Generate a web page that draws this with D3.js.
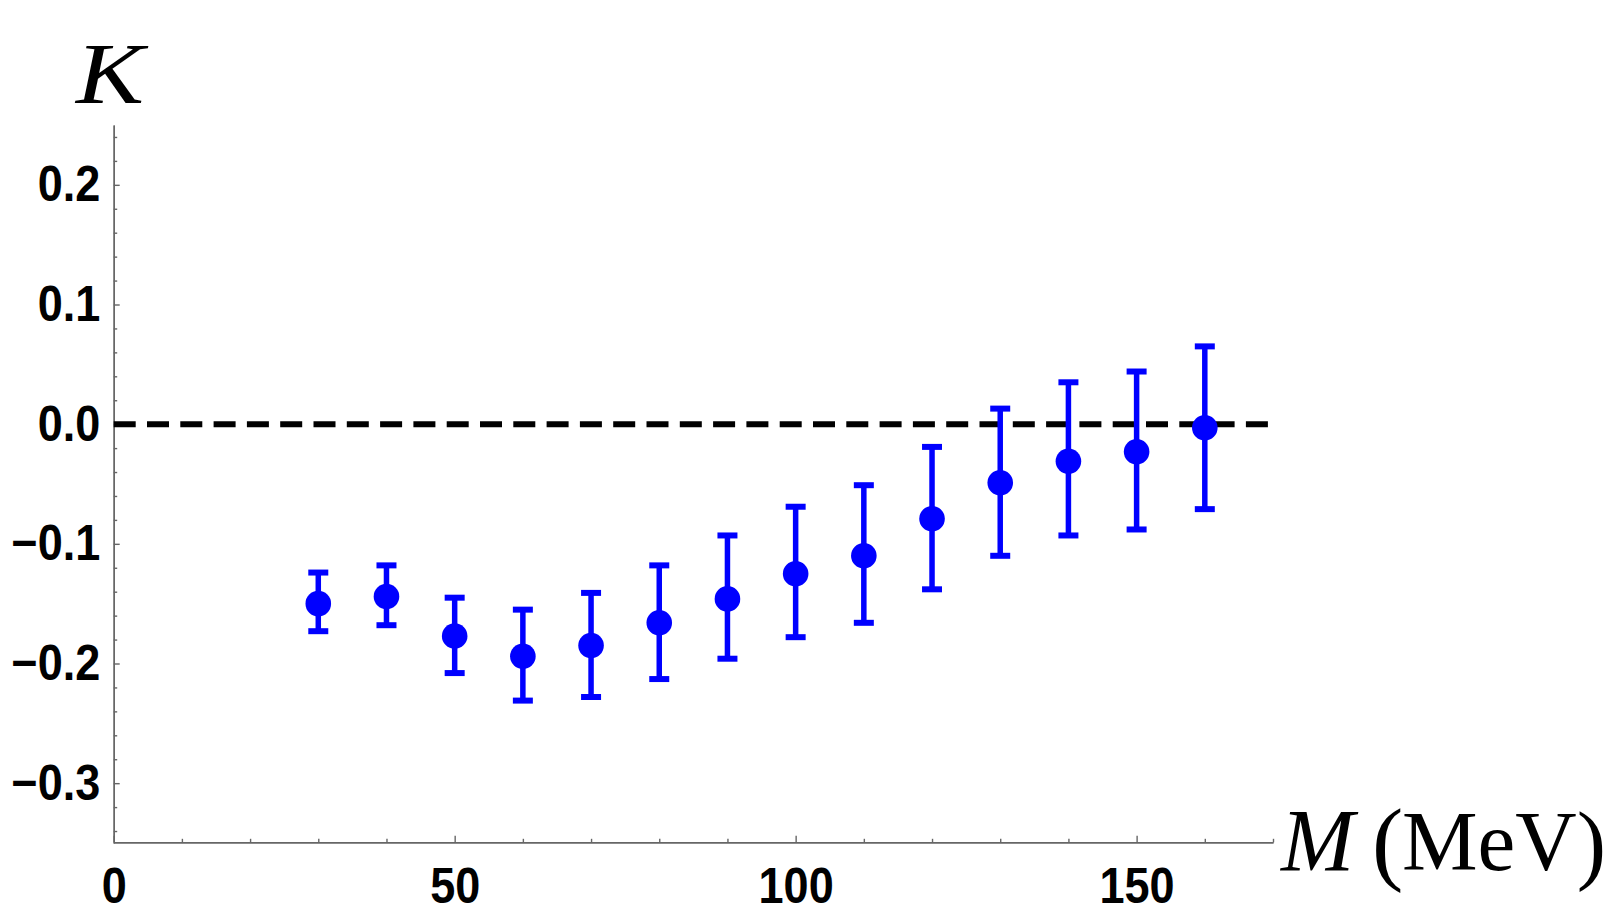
<!DOCTYPE html>
<html>
<head>
<meta charset="utf-8">
<script src="https://cdn.jsdelivr.net/npm/d3@7"></script>
<style>
  html, body { margin: 0; padding: 0; background: #fff; }
  svg { display: block; }
</style>
</head>
<body>
<svg id="chart" width="1605" height="917"></svg>
<script>
// ---- data ----
const masses   = [30, 40, 50, 60, 70, 80, 90, 100, 110, 120, 130, 140, 150, 160];
const kValues  = [-0.150, -0.144, -0.177, -0.194, -0.185, -0.166, -0.146, -0.125, -0.110, -0.079, -0.049, -0.031, -0.023, -0.003];
const kUpper   = [-0.124, -0.118, -0.145, -0.155, -0.141, -0.118, -0.093, -0.069, -0.051, -0.019, 0.013, 0.035, 0.044, 0.065];
const kLower   = [-0.173, -0.168, -0.208, -0.231, -0.228, -0.213, -0.196, -0.178, -0.166, -0.138, -0.110, -0.093, -0.088, -0.071];
const xMajorTicks = [0, 50, 100, 150];
const yMajorTicks = [-0.3, -0.2, -0.1, 0.0, 0.1, 0.2];
const xDomain = [0, 170];
const yDomain = [-0.35, 0.25];
const referenceLevel = 0;

const svg = d3.select("#chart");
const x = d3.scaleLinear().domain(xDomain).range([113.7, 1273]);
const y = d3.scaleLinear().domain(yDomain).range([843, 125]);

const axisColor = "#666";
const labelFont = "'Liberation Sans', Arial, sans-serif";

// minor ticks
const xMinor = d3.range(0, 171, 10).filter(v => !xMajorTicks.includes(v));
const yMinor = d3.range(-34, 25, 2).map(v => +(v / 100).toFixed(2)).filter(v => !yMajorTicks.some(t => Math.abs(t - v) < 1e-9));

const gx = svg.append("g").attr("transform", `translate(0,${y.range()[0] - 0.7})`);
gx.call(d3.axisBottom(x).tickValues(xMinor).tickSizeInner(-3.5).tickSizeOuter(0).tickFormat(""));
const gxMaj = svg.append("g").attr("transform", `translate(0,${y.range()[0] - 0.7})`);
gxMaj.call(d3.axisBottom(x).tickValues(xMajorTicks).tickSizeInner(-6.5).tickSizeOuter(0).tickPadding(25).tickFormat(d3.format("d")));

const gy = svg.append("g").attr("transform", `translate(${x.range()[0]},0)`);
gy.call(d3.axisLeft(y).tickValues(yMinor).tickSizeInner(-3.5).tickSizeOuter(0).tickFormat(""));
const gyMaj = svg.append("g").attr("transform", `translate(${x.range()[0]},0)`);
gyMaj.call(d3.axisLeft(y).tickValues(yMajorTicks).tickSizeInner(-6).tickSizeOuter(0).tickPadding(13.5).tickFormat(d3.format(".1f")));

[gx, gxMaj, gy, gyMaj].forEach(g => {
  g.selectAll("path.domain").attr("stroke", axisColor).attr("stroke-width", 1.4);
  g.selectAll(".tick line").attr("stroke", axisColor).attr("stroke-width", 1.4);
});
[gxMaj, gyMaj].forEach(g => {
  g.selectAll(".tick text")
    .attr("fill", "#000")
    .style("font-family", labelFont)
    .style("font-weight", "bold")
    .style("font-size", "50px")
    .each(function() {
      const w = this.getComputedTextLength();
      d3.select(this).attr("textLength", w * 0.9).attr("lengthAdjust", "spacingAndGlyphs");
    });
});

// dashed reference line
svg.append("line")
  .attr("x1", x(xDomain[0])).attr("x2", x(xDomain[1]))
  .attr("y1", y(referenceLevel)).attr("y2", y(referenceLevel))
  .attr("stroke", "#000").attr("stroke-width", 6)
  .attr("stroke-dasharray", "22,11.3");

// error bars and points
const data = masses.map((m, i) => ({ m, k: kValues[i], hi: kUpper[i], lo: kLower[i] }));
const blue = "#0000ff";
const capHalf = 10;
const gPts = svg.append("g");
const bars = gPts.selectAll("g.pt").data(data).join("g").attr("class", "pt");
bars.append("line")
  .attr("x1", d => x(d.m)).attr("x2", d => x(d.m))
  .attr("y1", d => y(d.hi)).attr("y2", d => y(d.lo))
  .attr("stroke", blue).attr("stroke-width", 5.5);
bars.append("line")
  .attr("x1", d => x(d.m) - capHalf).attr("x2", d => x(d.m) + capHalf)
  .attr("y1", d => y(d.hi)).attr("y2", d => y(d.hi))
  .attr("stroke", blue).attr("stroke-width", 6);
bars.append("line")
  .attr("x1", d => x(d.m) - capHalf).attr("x2", d => x(d.m) + capHalf)
  .attr("y1", d => y(d.lo)).attr("y2", d => y(d.lo))
  .attr("stroke", blue).attr("stroke-width", 6);
bars.append("circle")
  .attr("cx", d => x(d.m)).attr("cy", d => y(d.k))
  .attr("r", 12.8).attr("fill", blue);

// axis titles
const serif = "'Liberation Serif', 'Times New Roman', serif";
svg.append("text")
  .attr("x", 76).attr("y", 102.7)
  .style("font-family", serif).style("font-style", "italic").style("font-size", "87px")
  .attr("fill", "#000").attr("textLength", 68).attr("lengthAdjust", "spacingAndGlyphs")
  .text("K");

const titleBase = 870;
const xTitle = svg.append("text")
  .attr("x", 1281).attr("y", titleBase)
  .style("font-family", serif).style("font-size", "86px")
  .attr("fill", "#000");
xTitle.append("tspan").style("font-style", "italic").style("font-size", "88px").text("M");
xTitle.append("tspan").attr("x", 1372).attr("dy", 3).style("font-size", "94px").text("(");
xTitle.append("tspan").attr("x", 1402).attr("dy", -3).style("font-size", "85px").text("MeV");
xTitle.append("tspan").attr("dy", 3).style("font-size", "88px").text(")");
</script>
</body>
</html>
